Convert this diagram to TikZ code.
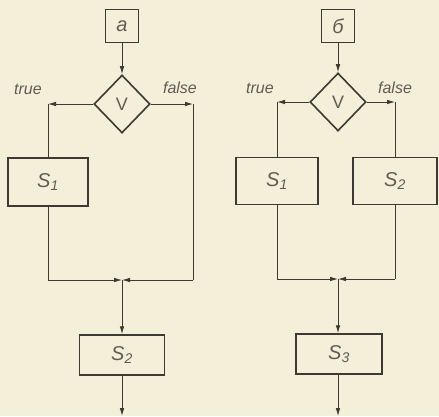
\documentclass[tikz,border=0pt]{standalone}
\usepackage{fontspec}
\setmainfont{Liberation Sans}
\usetikzlibrary{shapes.geometric,arrows.meta}
\definecolor{paper}{RGB}{244,239,217}
\definecolor{ink}{RGB}{60,58,52}
\definecolor{txt}{RGB}{95,92,85}
\tikzset{
  blk/.style={draw=ink,line width=1.5pt,inner sep=0pt,font=\itshape\fontsize{20}{20}\selectfont,text=txt},
  cond/.style={diamond,draw=ink,line width=1.6pt,inner sep=0pt,minimum width=56pt,minimum height=58pt,font=\fontsize{18}{18}\selectfont,text=txt},
  lbl/.style={font=\itshape\fontsize{16}{16}\selectfont,text=txt},
  con/.style={draw=ink,line width=0.8pt},
  arr/.style={con,-{Latex[length=8pt,width=4.5pt]}},
}
\begin{document}
\begin{tikzpicture}[x=1pt,y=-1pt]
\fill[paper] (0,0) rectangle (439,416);
\useasboundingbox (0,0) rectangle (439,416);
% ---------- left diagram
\node[blk,minimum width=33pt,minimum height=33pt] (ba) at (122,26) {a};
\node[cond] (da) at (122,104) {V};
\node[blk,minimum width=80pt,minimum height=48pt] (s1a) at (48,182) {S\textsubscript{1}};
\node[blk,minimum width=85pt,minimum height=40pt] (s2a) at (122,355) {S\textsubscript{2}};
\coordinate (ta) at (48,104);
\coordinate (fa) at (193,104);
\coordinate (mla) at (48,280);
\coordinate (mra) at (193,280);
\coordinate (ma) at (122,280);
\coordinate (ea) at (122,416);
\node[lbl] (truea) at (28,89) {true};
\node[lbl] (falsea) at (180,88) {false};
\draw[arr] (ba.south) -- (da.north);
\draw[arr] (da.west) -- (ta);
\draw[con] (ta) -- (s1a.north);
\draw[arr] (da.east) -- (fa);
\draw[con] (fa) -- (mra);
\draw[con] (s1a.south) -- (mla);
\draw[arr] (mla) -- (ma);
\draw[arr] (mra) -- (ma);
\draw[arr] (ma) -- (s2a.north);
\draw[arr] (s2a.south) -- (ea);
% ---------- right diagram
\node[blk,minimum width=33pt,minimum height=33pt] (bb) at (338,26) {б};
\node[cond] (db) at (338,102) {V};
\node[blk,minimum width=82pt,minimum height=47pt] (s1b) at (277,181) {S\textsubscript{1}};
\node[blk,minimum width=84pt,minimum height=47pt] (s2b) at (395,181) {S\textsubscript{2}};
\node[blk,minimum width=86pt,minimum height=40pt] (s3b) at (339,354) {S\textsubscript{3}};
\coordinate (tb) at (277,102);
\coordinate (fb) at (395,102);
\coordinate (mlb) at (277,279);
\coordinate (mrb) at (395,279);
\coordinate (mb) at (338,279);
\coordinate (eb) at (338,416);
\node[lbl] (trueb) at (260,88) {true};
\node[lbl] (falseb) at (395,88) {false};
\draw[arr] (bb.south) -- (db.north);
\draw[arr] (db.west) -- (tb);
\draw[con] (tb) -- (s1b.north);
\draw[arr] (db.east) -- (fb);
\draw[con] (fb) -- (s2b.north);
\draw[con] (s1b.south) -- (mlb);
\draw[con] (s2b.south) -- (mrb);
\draw[arr] (mlb) -- (mb);
\draw[arr] (mrb) -- (mb);
\draw[arr] (mb) -- (mb |- s3b.north);
\draw[arr] (s3b.south -| mb) -- (eb);
\end{tikzpicture}
\end{document}
